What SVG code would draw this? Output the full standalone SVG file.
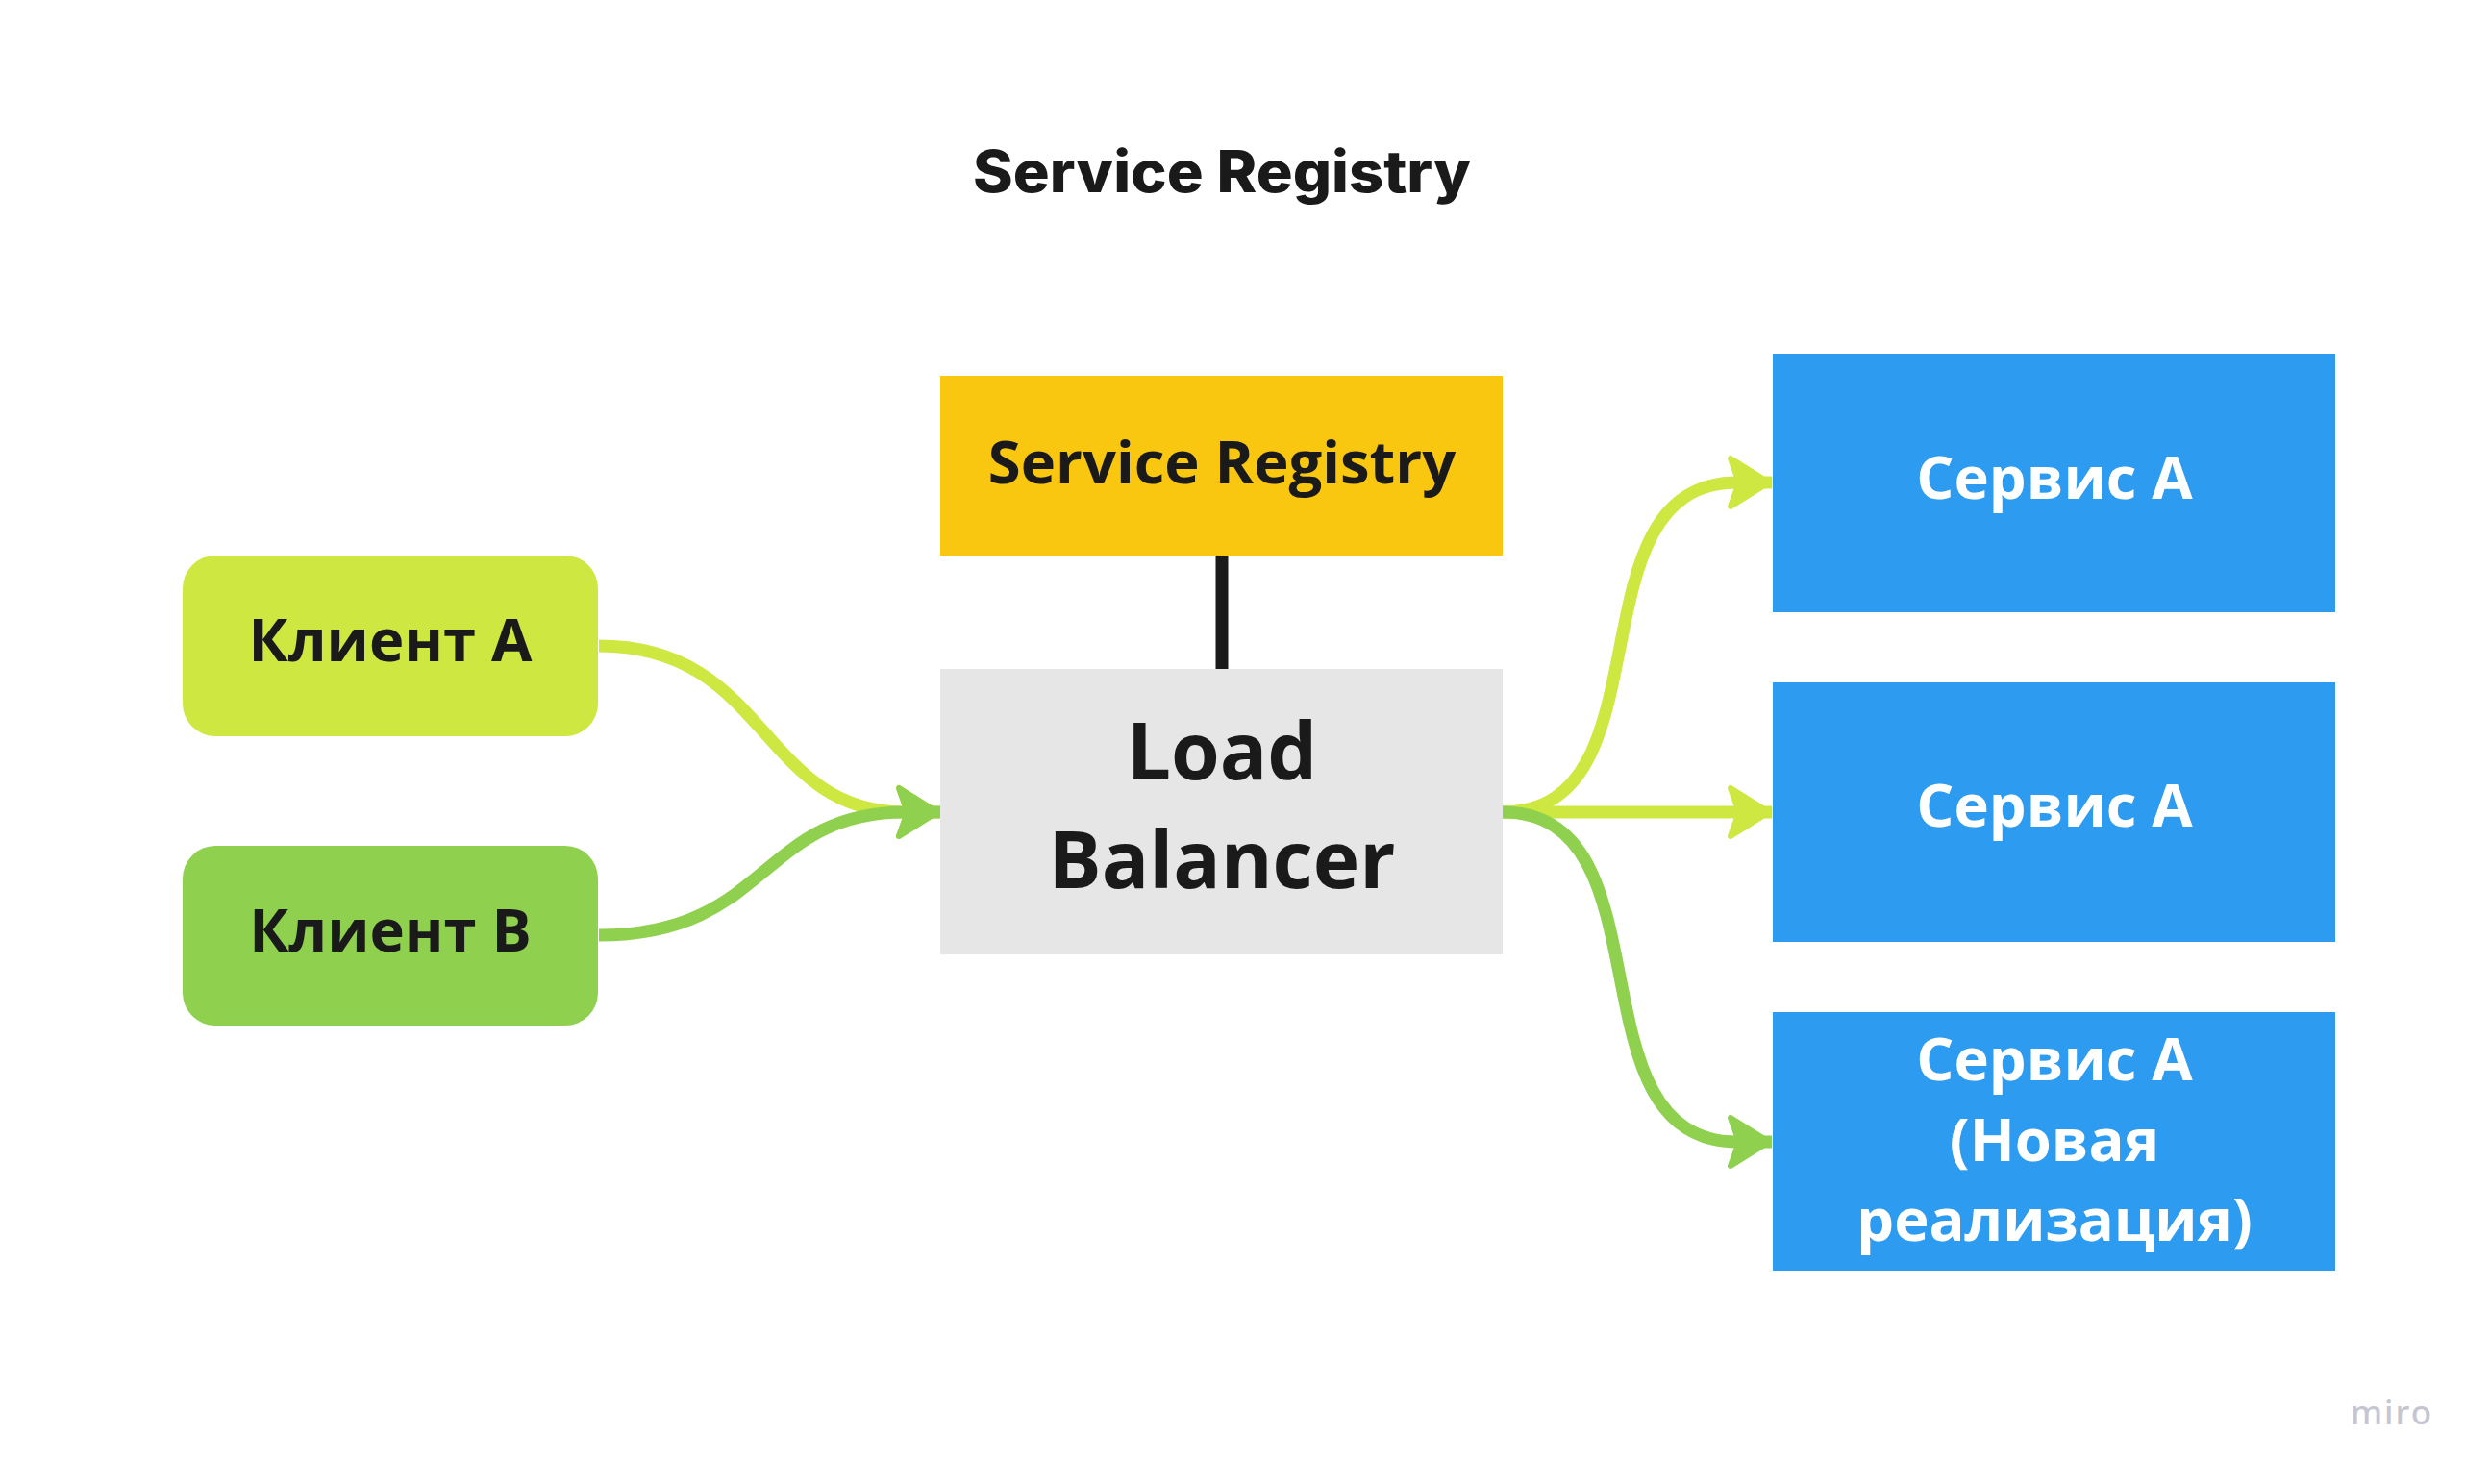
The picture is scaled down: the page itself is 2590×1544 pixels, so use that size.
<svg xmlns="http://www.w3.org/2000/svg" width="2590" height="1544" viewBox="0 0 2590 1544">
<defs>
<style>
.lbl{font-family:"Open Sans","Noto Sans","Liberation Sans",sans-serif;font-weight:700;text-anchor:middle;fill:#1a1a1a}
.wht{fill:#ffffff}
.con{fill:none;stroke-width:13}
.lime{stroke:#CEE741}
.green{stroke:#8FD14F}
</style>
<marker id="ahLime" markerUnits="userSpaceOnUse" orient="auto" refX="0" refY="0" markerWidth="80" markerHeight="80" viewBox="-60 -40 70 80" overflow="visible">
<path d="M-3,0 L-43,-25 L-34,0 L-43,25 Z" fill="#CEE741" stroke="#CEE741" stroke-width="6" stroke-linejoin="round"/>
</marker>
<marker id="ahGreen" markerUnits="userSpaceOnUse" orient="auto" refX="0" refY="0" markerWidth="80" markerHeight="80" viewBox="-60 -40 70 80" overflow="visible">
<path d="M-3,0 L-43,-25 L-34,0 L-43,25 Z" fill="#8FD14F" stroke="#8FD14F" stroke-width="6" stroke-linejoin="round"/>
</marker>
</defs>
<rect width="2590" height="1544" fill="#ffffff"/>

<g id="title">
<text x="1271" y="200" font-family="Inter,'Liberation Sans',sans-serif" font-weight="800" font-size="60" text-anchor="middle" fill="#1a1a1a" textLength="518" lengthAdjust="spacingAndGlyphs">Service Registry</text>
</g>

<g id="connectors">
<line x1="1271" y1="578" x2="1271" y2="696" stroke="#1a1a1a" stroke-width="13"/>
<path class="con lime" d="M623,672 C800,672 790,845 942,845 L978,845" marker-end="url(#ahLime)"/>
<path class="con green" d="M623,973 C800,973 790,845 942,845 L978,845" marker-end="url(#ahGreen)"/>
<path class="con lime" d="M1563,845 C1740,845 1630,502 1807,502 L1843,502" marker-end="url(#ahLime)"/>
<path class="con lime" d="M1563,845 L1843,845" marker-end="url(#ahLime)"/>
<path class="con green" d="M1563,845 C1740,845 1630,1188 1807,1188 L1843,1188" marker-end="url(#ahGreen)"/>
</g>

<g id="client-a">
<rect x="190" y="578" width="432" height="188" rx="34" ry="34" fill="#CEE741"/>
<text class="lbl" x="406" y="688" font-size="61.5">Клиент А</text>
</g>
<g id="client-b">
<rect x="190" y="880" width="432" height="187" rx="34" ry="34" fill="#8FD14F"/>
<text class="lbl" x="406" y="990" font-size="61.5">Клиент B</text>
</g>

<g id="service-registry">
<rect x="978" y="391" width="585" height="187" fill="#FAC710"/>
<text class="lbl" x="1271" y="503" font-size="61.5">Service Registry</text>
</g>

<g id="load-balancer">
<rect x="978" y="696" width="585" height="297" fill="#E6E6E6"/>
<text class="lbl" x="1271" y="811" font-size="82">Load</text>
<text class="lbl" x="1271" y="924" font-size="82">Balancer</text>
</g>

<g id="service-a-1">
<rect x="1844" y="368" width="585" height="269" fill="#2D9BF0"/>
<text class="lbl wht" x="2137" y="519" font-size="61.5">Сервис А</text>
</g>
<g id="service-a-2">
<rect x="1844" y="710" width="585" height="270" fill="#2D9BF0"/>
<text class="lbl wht" x="2137" y="860" font-size="61.5">Сервис А</text>
</g>
<g id="service-a-3">
<rect x="1844" y="1053" width="585" height="269" fill="#2D9BF0"/>
<text class="lbl wht" x="2137" y="1124" font-size="61.5">Сервис А</text>
<text class="lbl wht" x="2137" y="1208" font-size="61.5">(Новая</text>
<text class="lbl wht" x="2137" y="1291" font-size="61.5">реализация)</text>
</g>

<g id="watermark">
<text x="2488" y="1482" font-family="'Noto Sans',Lato,sans-serif" font-size="35" font-weight="500" text-anchor="middle" fill="#C6C6D2" letter-spacing="2">miro</text>
</g>
</svg>
